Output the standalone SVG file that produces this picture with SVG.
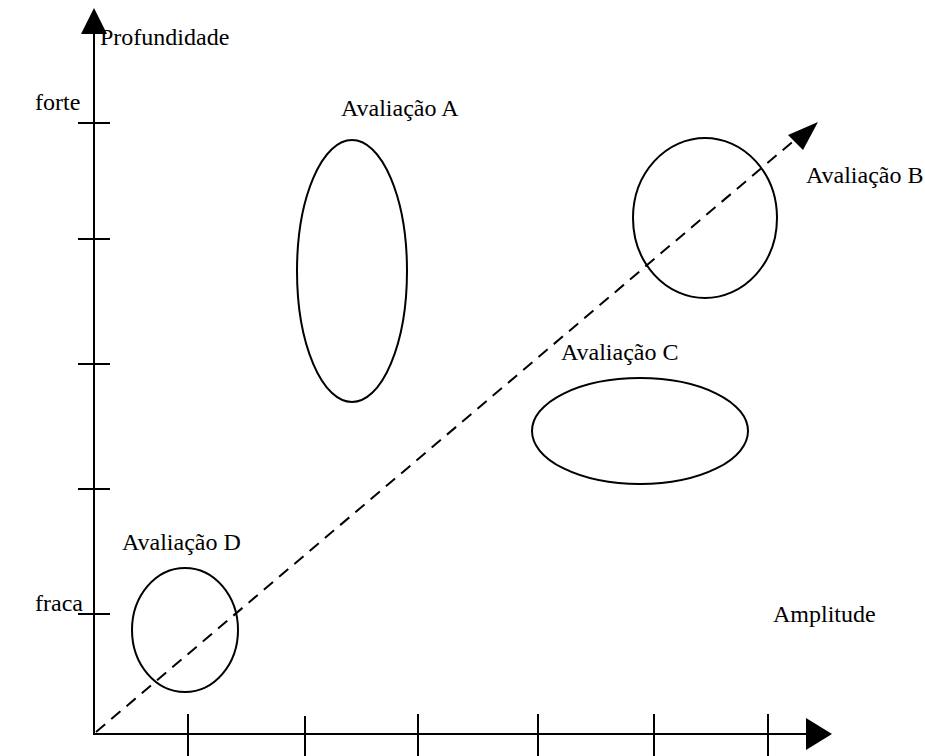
<svg xmlns="http://www.w3.org/2000/svg" width="925" height="756" viewBox="0 0 925 756">
<style>
.t{font-family:'Liberation Serif','Times New Roman',serif;font-size:24px;fill:#000}
.ax{stroke:#000;stroke-width:2;fill:none}
.el{stroke:#000;stroke-width:2;fill:none}
.dash{stroke:#000;stroke-width:2;fill:none;stroke-dasharray:12 8}
</style>
<rect width="925" height="756" fill="#fff"/>
<g id="axes">
<line class="ax" x1="94" y1="30" x2="94" y2="734"/>
<polygon points="94,8 81,34 107,34" fill="#000"/>
<line class="ax" x1="93" y1="734" x2="808" y2="734"/>
<polygon points="832,734 806,718 806,750" fill="#000"/>
<g class="ax">
<line x1="78" y1="123" x2="110" y2="123"/>
<line x1="78" y1="239" x2="110" y2="239"/>
<line x1="78" y1="364" x2="110" y2="364"/>
<line x1="78" y1="489" x2="110" y2="489"/>
<line x1="78" y1="614" x2="110" y2="614"/>
<line x1="188" y1="714" x2="188" y2="756"/>
<line x1="305" y1="716" x2="305" y2="756"/>
<line x1="418" y1="714" x2="418" y2="756"/>
<line x1="538" y1="714" x2="538" y2="756"/>
<line x1="654" y1="714" x2="654" y2="756"/>
<line x1="768" y1="714" x2="768" y2="756"/>
</g>
<text class="t" x="100" y="45">Profundidade</text>
<text class="t" x="35" y="110">forte</text>
<text class="t" x="35" y="611">fraca</text>
<text class="t" x="773" y="622">Amplitude</text>
</g>
<g id="connectors">
<line class="dash" x1="96" y1="732" x2="797" y2="138"/>
<polygon points="818,122 788,135 803,150" fill="#000"/>
</g>
<g id="nodeA">
<ellipse class="el" cx="352" cy="271" rx="55" ry="131"/>
<text class="t" x="341" y="116">Avaliação A</text>
</g>
<g id="nodeB">
<ellipse class="el" cx="705" cy="218" rx="72" ry="80"/>
<text class="t" x="806" y="183">Avaliação B</text>
</g>
<g id="nodeC">
<ellipse class="el" cx="640" cy="431" rx="108" ry="53"/>
<text class="t" x="561" y="360">Avaliação C</text>
</g>
<g id="nodeD">
<ellipse class="el" cx="185" cy="630" rx="53" ry="62"/>
<text class="t" x="122" y="550">Avaliação D</text>
</g>
</svg>
